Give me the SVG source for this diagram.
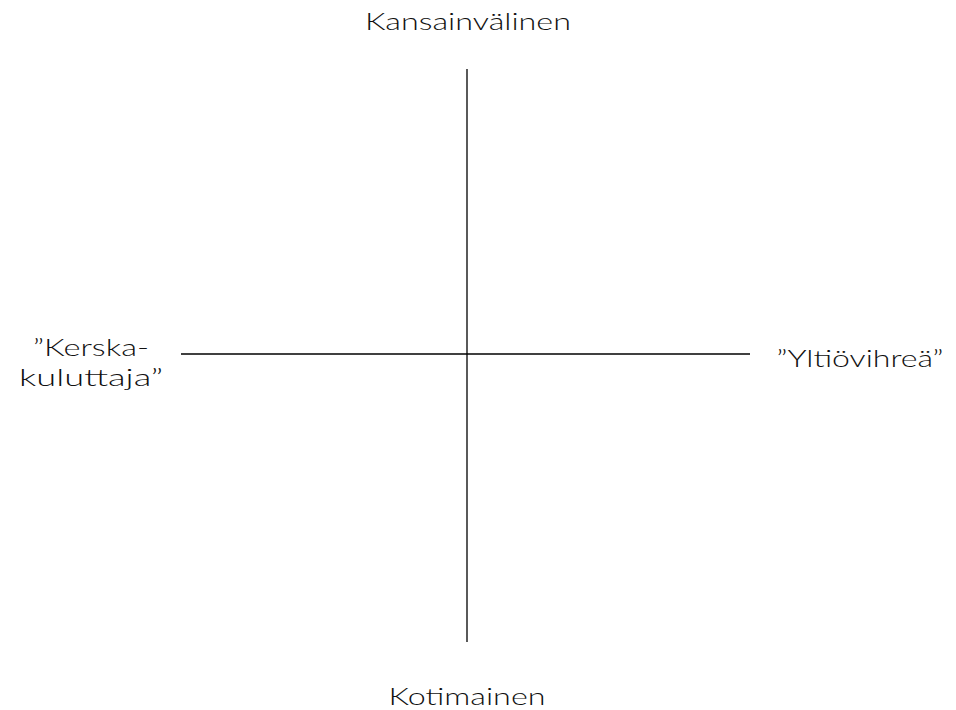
<svg xmlns="http://www.w3.org/2000/svg" width="956" height="710" viewBox="0 0 956 710">
<style>
.t{font-family:Lato,"Noto Sans","Liberation Sans",sans-serif;font-size:24px;font-weight:300;fill:#111;}
.ax{stroke:#000;stroke-width:1.3;fill:none;}
</style>
<rect width="956" height="710" fill="#fff"/>
<g id="connectors">
<line class="ax" x1="467" y1="69" x2="467" y2="642"/>
<line class="ax" x1="181" y1="354" x2="750" y2="354"/>
</g>
<g id="top"><text class="t" x="468" y="30" text-anchor="middle" textLength="206" lengthAdjust="spacingAndGlyphs">Kansainvälinen</text></g>
<g id="bottom"><text class="t" x="467" y="705" text-anchor="middle" textLength="157" lengthAdjust="spacingAndGlyphs">Kotimainen</text></g>
<g id="left"><text class="t" x="91" y="356" text-anchor="middle" textLength="116" lengthAdjust="spacingAndGlyphs">”Kerska-</text><text class="t" x="91" y="386" text-anchor="middle" textLength="144" lengthAdjust="spacingAndGlyphs">kuluttaja”</text></g>
<g id="right"><text class="t" x="860" y="367" text-anchor="middle" textLength="167" lengthAdjust="spacingAndGlyphs">”Yltiövihreä”</text></g>
</svg>
